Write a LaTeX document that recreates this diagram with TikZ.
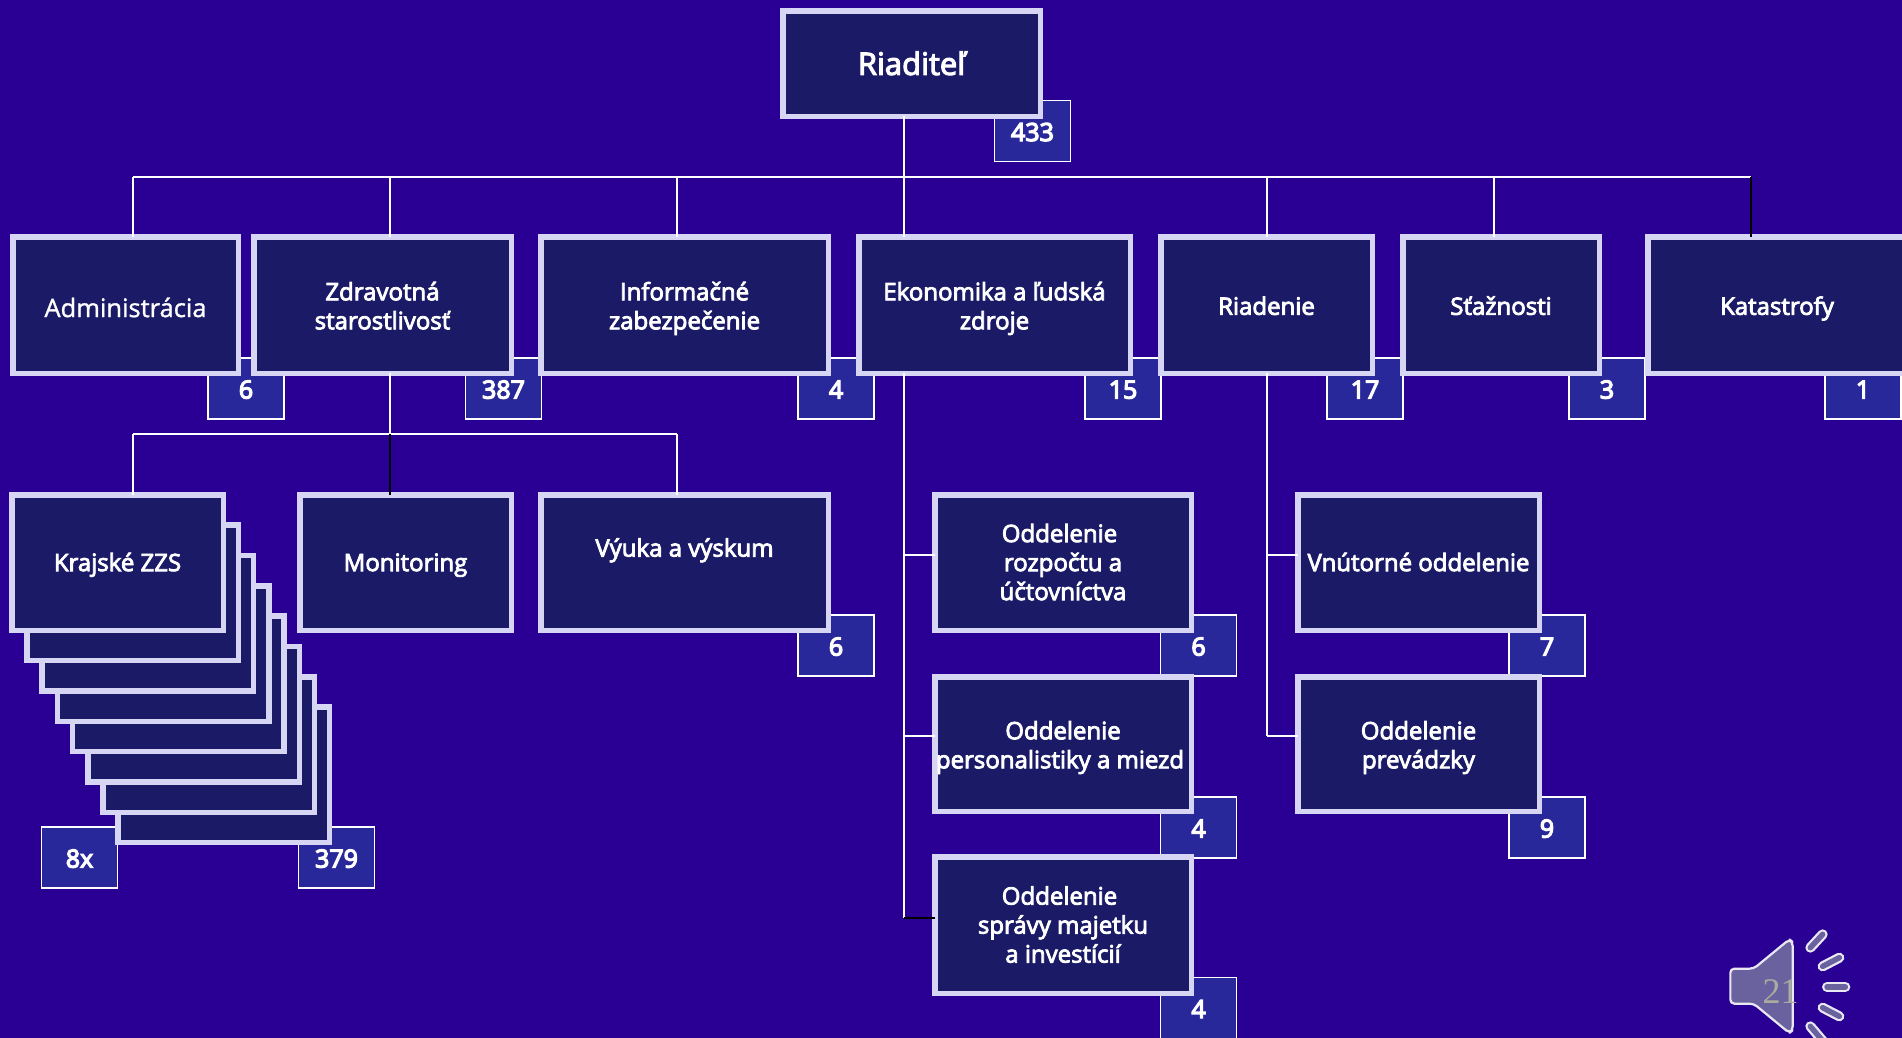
\documentclass[tikz,border=0pt]{standalone}
\usepackage{fontspec}
\setmainfont{Open Sans}
\newfontfamily\numfont[FakeBold=5]{Open Sans}
\newfontfamily\medfont[FakeBold=3.5]{Open Sans}
\newfontfamily\lightfont[FakeBold=1.2]{Open Sans}
\newfontfamily\pagefont{Liberation Serif}
\definecolor{bgc}{HTML}{2A0094}
\definecolor{boxc}{HTML}{1A1A66}
\definecolor{edgec}{HTML}{D6D6F4}
\definecolor{badgec}{HTML}{28289A}
\definecolor{spk}{HTML}{6A629F}
\definecolor{pagec}{HTML}{ABABA0}
\tikzset{
  unit/.style={draw=edgec,fill=boxc,line width=5.5pt,outer sep=0pt,inner sep=0pt,text=white,
    font=\medfont\fontsize{24}{29}\selectfont},
  badge/.style={draw=white,fill=badgec,line width=1.8pt,outer sep=0pt,inner sep=0pt,text=white,
    minimum width=76pt,minimum height=61pt,font=\numfont\fontsize{25}{30}\selectfont},
  link/.style={draw=white,line width=1.8pt},
  blacklink/.style={draw=black,line width=1.8pt},
  ray/.style={line cap=round,line width=10pt,draw=white!85!spk},
  rayin/.style={line cap=round,line width=5.5pt,draw=spk}
}
\newcommand{\txtdrop}{-9pt}
\newcommand{\unitbox}[6]{% x1, y1, x2, y2 (outer), name, text
  \node[unit,minimum width=#3-#1-5.5pt,minimum height=#4-#2-5.5pt] (#5) at ({(#1+#3)/2},{(#2+#4)/2})
    {\raisebox{\txtdrop}[0pt][0pt]{\begin{tabular}[c]{@{}c@{}}#6\end{tabular}}};}
\newcommand{\badgebox}[4]{\node[badge] (#1) at (#2,#3) {\raisebox{-10pt}[0pt][0pt]{#4}};}
\begin{document}
\begin{tikzpicture}[x=1pt,y=-1pt]
\useasboundingbox (0,0) rectangle (1902,1037);
\fill[bgc] (-5,-5) rectangle (1907,1042);
% bus points
\coordinate (b1) at (133,177);
\coordinate (b2) at (390,177);
\coordinate (b3) at (677,177);
\coordinate (b4) at (904,177);
\coordinate (b5) at (1267,177);
\coordinate (b6) at (1494,177);
\coordinate (b7) at (1751,177);
\coordinate (c1) at (133,434);
\coordinate (c2) at (390,434);
\coordinate (c3) at (677,434);
\coordinate (d1) at (904,555);
\coordinate (d2) at (904,736);
\coordinate (d3) at (904,918);
\coordinate (e1) at (1267,555);
\coordinate (e2) at (1267,736);
% badges
\badgebox{bdir}{1032.5}{131}{433}
\badgebox{badm}{246}{388.5}{6}
\badgebox{bzdr}{503.5}{388.5}{387}
\badgebox{binf}{836}{388.5}{4}
\badgebox{beko}{1123}{388.5}{15}
\badgebox{brd}{1365}{388.5}{17}
\badgebox{bsta}{1607}{388.5}{3}
\badgebox{bkat}{1863}{388.5}{1}
\badgebox{bvyu}{836}{645.5}{6}
\badgebox{brozp}{1198.5}{645.5}{6}
\badgebox{bpers}{1198.5}{827.5}{4}
\badgebox{bmaj}{1198.5}{1008}{4}
\badgebox{bvnu}{1547}{645.5}{7}
\badgebox{bprev}{1547}{827.5}{9}
\badgebox{bcount}{79.5}{857.5}{8x}
\badgebox{bzzs}{336.5}{857.5}{379}
% stack behind Krajske ZZS
\foreach \i in {7,6,...,1}{
  \pgfmathsetmacro{\xa}{9+15.2*\i}
  \pgfmathsetmacro{\ya}{492+30.35*\i}
  \pgfmathsetmacro{\xb}{226+15.2*\i}
  \pgfmathsetmacro{\yb}{633+30.35*\i}
  \draw[draw=edgec,fill=boxc,line width=5.5pt] (\xa+2.75,\ya+2.75) rectangle (\xb-2.75,\yb-2.75);
}
% units
\renewcommand{\txtdrop}{-10.2pt}
\unitbox{780}{8}{1043}{119}{dir}{\fontsize{31}{32}\selectfont Riaditeľ}
\unitbox{251}{234}{514}{376}{zdr}{Zdravotná\\starostlivosť}
\unitbox{538}{234}{831}{376}{inf}{Informačné\\zabezpečenie}
\unitbox{856}{234}{1133}{376}{eko}{Ekonomika a ľudská\\zdroje}
\unitbox{1158}{234}{1375}{376}{rd}{Riadenie}
\unitbox{1400}{234}{1602}{376}{sta}{Sťažnosti}
\unitbox{1645}{234}{1909}{376}{kat}{Katastrofy}
\unitbox{932}{674}{1194}{814}{pers}{Oddelenie\\\hspace*{-6pt}personalistiky a miezd}
\unitbox{1295}{674}{1542}{814}{prev}{Oddelenie\\prevádzky}
\renewcommand{\txtdrop}{-12.5pt}
\unitbox{10}{234}{241}{376}{adm}{\lightfont\fontsize{25.5}{29}\selectfont Administrácia}
\renewcommand{\txtdrop}{-9pt}
\unitbox{9}{492}{226}{633}{zzs}{Krajské ZZS}
\unitbox{297}{492}{514}{633}{mon}{Monitoring}
\unitbox{538}{492}{831}{633}{vyu}{Výuka a výskum\\~}
\unitbox{932}{492}{1194}{633}{rozp}{\hspace*{-7pt}Oddelenie\\rozpočtu a\\účtovníctva}
\unitbox{932}{854}{1194}{996}{maj}{\hspace*{-7pt}Oddelenie\\správy majetku\\a investícií}
\unitbox{1295}{492}{1542}{633}{vnu}{Vnútorné oddelenie}
% connectors
\draw[link] (b4 |- dir.south) -- (b4);
\draw[link] (b1) -- (b7);
\draw[link] (b1) -- (b1 |- adm.north);
\draw[link] (b2) -- (b2 |- zdr.north);
\draw[link] (b3) -- (b3 |- inf.north);
\draw[link] (b4) -- (b4 |- eko.north);
\draw[link] (b5) -- (b5 |- rd.north);
\draw[link] (b6) -- (b6 |- sta.north);
\draw[blacklink] (b7) -- (b7 |- kat.north);
\draw[link] (c2 |- zdr.south) -- (c2);
\draw[link] (c1) -- (c3);
\draw[link] (c1) -- (c1 |- zzs.north);
\draw[blacklink] (c2) -- (c2 |- mon.north);
\draw[link] (c3) -- (c3 |- vyu.north);
\draw[link] (d1 |- eko.south) -- (d3);
\draw[link] (d1) -- (d1 -| rozp.west);
\draw[link] (d2) -- (d2 -| pers.west);
\draw[blacklink] (d3) -- (d3 -| maj.west);
\draw[link] (e1 |- rd.south) -- (e2);
\draw[link] (e1) -- (e1 -| vnu.west);
\draw[link] (e2) -- (e2 -| prev.west);
% speaker icon
\begin{scope}[shift={(1702,907)},x=0.3333pt,y=-0.3333pt]
\draw[fill=spk,draw=white!85!spk,line width=2.2pt,line join=round,rounded corners=4pt]
  (85,185) -- (155,185) -- (262,97) -- (272,105) -- (272,370) -- (262,378) -- (155,290) -- (85,290) -- cycle;
\foreach \xa/\ya/\xb/\yb in {325/122/362/82, 362/178/412/152, 375/240/430/240, 362/302/412/328, 325/358/365/405}{
  \draw[ray] (\xa,\ya) -- (\xb,\yb);
  \draw[rayin] (\xa,\ya) -- (\xb,\yb);
}
\node[text=pagec,inner sep=0pt,font=\pagefont\fontsize{36}{36}\selectfont] at (236,255) {21};
\end{scope}
\end{tikzpicture}
\end{document}
